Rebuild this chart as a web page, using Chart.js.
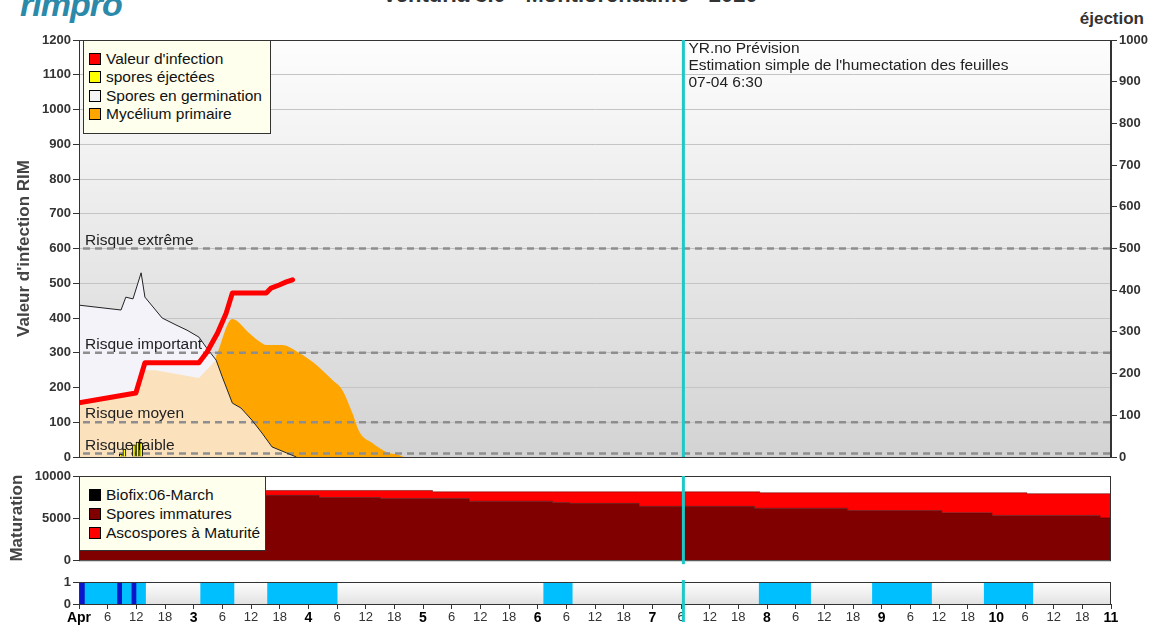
<!DOCTYPE html>
<html>
<head>
<meta charset="utf-8">
<script src="https://cdn.jsdelivr.net/npm/chart.js@4.4.0/dist/chart.umd.min.js"></script>
<style>
body { margin: 0; background: #fff; width: 1159px; height: 626px; overflow: hidden; position: relative; font-family: "Liberation Sans", Arial, sans-serif; }
canvas { position: absolute; left: 0; }
.logo { position: absolute; left: 20px; top: -13px; font-size: 34px; line-height: 1; font-weight: bold; font-style: italic; color: #2b89a9; letter-spacing: -1px; }
.title { position: absolute; left: 0; width: 1140px; text-align: center; top: -16px; font-size: 22px; line-height: 1; font-weight: bold; color: #333; }
.eject { position: absolute; right: 15px; top: 10px; font-size: 17px; line-height: 1; font-weight: bold; color: #333; }
.lg { position: absolute; background: #ffffee; border: 1px solid #333; box-sizing: border-box; font-size: 15.5px; color: #111; z-index: 5; }
.lg div { position: absolute; white-space: nowrap; line-height: 17px; }
.lg i { display: inline-block; width: 10px; height: 10px; border: 1px solid #000; vertical-align: -1px; margin-right: 5px; }
</style>
</head>
<body>
<div class="title">Venturia 3.0 - Montlorchaume - 2020</div>
<div class="logo">rimpro</div>
<div class="eject">éjection</div>

<canvas id="main" width="1159" height="470" style="top:0"></canvas>
<canvas id="mat" width="1159" height="105" style="top:465px"></canvas>
<canvas id="wet" width="1159" height="54" style="top:572px"></canvas>

<div class="lg" style="left:83px;top:40px;width:188px;height:94px">
  <div style="left:5px;top:9px"><i style="background:#ff0000"></i>Valeur d'infection</div>
  <div style="left:5px;top:27px"><i style="background:#ffff00"></i>spores éjectées</div>
  <div style="left:5px;top:46px"><i style="background:#f4f4f4"></i>Spores en germination</div>
  <div style="left:5px;top:64px"><i style="background:#ffa500"></i>Mycélium primaire</div>
</div>
<div class="lg" style="left:79px;top:476px;width:187px;height:75px">
  <div style="left:9px;top:9px"><i style="background:#000"></i>Biofix:06-March</div>
  <div style="left:9px;top:28px"><i style="background:#800000"></i>Spores immatures</div>
  <div style="left:9px;top:47px"><i style="background:#ff0000"></i>Ascospores à Maturité</div>
</div>

<script>
// hours counted from 2 April 00:00
var dayLabels = ['Apr', '3', '4', '5', '6', '7', '8', '9', '10', '11'];
var forecastHour = 126.5; // 07-04 6:30
var forecastTexts = ['YR.no Prévision', "Estimation simple de l'humectation des feuilles", '07-04 6:30'];

var riskValues = [600, 300, 100, 10];
var riskLabels = ['Risque extrême', 'Risque important', 'Risque moyen', 'Risque faible'];

// Valeur d'infection RIM
var infectionHours = [0, 11.9, 13.8, 25.1, 26.8, 29.0, 30.8, 32.1, 39.2, 40.2, 41.9, 43.4, 44.7];
var infectionValues = [156, 184, 271, 271, 302, 357, 414, 472, 472, 486, 495, 504, 510];

// spores ejectees (right axis)
var ejectHours = [8.75, 9.5, 11.5, 12.25, 13];
var ejectValues = [7, 19, 29, 36, 34];

// spores en germination
var germHours = [0, 8.8, 9.8, 11.3, 13.0, 13.8, 17.4, 20.3, 22.6, 25.1, 26.6, 28.7, 30.0, 32.1, 33.9, 36.2, 38.3, 40.4, 43.4, 45.5];
var germValues = [437, 423, 460, 455, 530, 460, 400, 380, 365, 345, 316, 279, 230, 155, 141, 106, 69, 29, 12, 0];

// lighter part under the germination curve
var peachHours = [0, 11.9, 13.8, 16, 25.1, 27.5, 28.7, 30.0, 32.1, 33.9, 36.2, 38.3, 40.4, 43.4, 45.5];
var peachValues = [152, 178, 250, 250, 227, 262, 279, 230, 155, 141, 106, 69, 29, 12, 0];

// mycelium primaire
var myceHours = [28.7, 32.1, 35.6, 38.0, 39.2, 42.5, 46.1, 49.7, 53.0, 55.1, 57.2, 58.7, 61.4, 64.4, 67.0, 68.0];
var myceValues = [290, 397, 357, 330, 322, 322, 299, 265, 222, 193, 127, 72, 40, 14, 6, 0];

// maturation
var matHours = [0, 50.3, 63.1, 74, 81.7, 99.1, 102.7, 117.3, 141.4, 142.5, 160.9, 180.6, 191.1, 198.4, 213.7, 216];
var immatures = [7700, 7440, 7320, 7320, 7010, 6860, 6750, 6400, 6170, 6170, 5900, 5630, 5320, 5320, 5020, 4950];
var matures = [580, 840, 960, 800, 1110, 1260, 1370, 1720, 1950, 1840, 2110, 2380, 2690, 2580, 2880, 2950];

// humectation des feuilles (1 = humide)
var wetHours = [0, 14, 25.4, 32.5, 39.4, 54.1, 97.2, 103.3, 142.3, 153.2, 166, 178.5, 189.4, 199.7, 216];
var wetValues = [1, 0, 1, 0, 1, 0, 1, 0, 1, 0, 1, 0, 1, 0, 0];
var rainHours = [0, 1.2, 8, 9, 11, 12, 216];
var rainValues = [1, 0, 1, 0, 1, 0, 0];

Chart.defaults.font.family = '"Liberation Sans", Arial, sans-serif';
Chart.defaults.color = '#333';

function toXY(xs, ys) {
    return xs.map((x, i) => ({ x: x, y: ys[i] }));
}

// background gradient + frame of the plot area
var panelPlugin = {
    id: 'panel',
    beforeDraw(chart, args, opts) {
        var a = chart.chartArea, ctx = chart.ctx;
        var g = ctx.createLinearGradient(0, a.top, 0, a.bottom);
        g.addColorStop(0, opts.top);
        g.addColorStop(1, opts.bottom);
        ctx.save();
        ctx.fillStyle = g;
        ctx.fillRect(a.left, a.top, a.right - a.left, a.bottom - a.top);
        ctx.restore();
    },
    afterDraw(chart) {
        var a = chart.chartArea, ctx = chart.ctx;
        ctx.save();
        ctx.strokeStyle = '#333';
        ctx.lineWidth = 1;
        ctx.strokeRect(a.left + 0.5, a.top + 0.5, a.right - a.left - 1, a.bottom - a.top);
        ctx.restore();
    }
};

// cyan line at start of forecast
var forecastPlugin = {
    id: 'forecast',
    afterDraw(chart, args, opts) {
        var a = chart.chartArea, ctx = chart.ctx;
        var x = chart.scales.x.getPixelForValue(forecastHour);
        ctx.save();
        ctx.strokeStyle = '#1ec8c8';
        ctx.lineWidth = 3;
        ctx.beginPath();
        ctx.moveTo(x, a.top - opts.above);
        ctx.lineTo(x, a.bottom + opts.below);
        ctx.stroke();
        if (opts.texts) {
            ctx.fillStyle = '#222';
            ctx.font = '15.5px "Liberation Sans", Arial, sans-serif';
            ctx.textBaseline = 'middle';
            opts.texts.forEach((t, i) => ctx.fillText(t, x + 5, a.top + 9 + i * 17));
        }
        ctx.restore();
    }
};

// risk levels
var riskPlugin = {
    id: 'risk',
    beforeDatasetsDraw(chart) {
        var a = chart.chartArea, ctx = chart.ctx, y = chart.scales.y;
        ctx.save();
        riskValues.forEach((v, i) => {
            var py = y.getPixelForValue(v);
            ctx.strokeStyle = '#8e8e8e';
            ctx.lineWidth = 2.5;
            ctx.setLineDash([7, 5]);
            ctx.beginPath();
            ctx.moveTo(a.left + 4, py);
            ctx.lineTo(a.right, py);
            ctx.stroke();
            ctx.fillStyle = '#222';
            ctx.font = '15.5px "Liberation Sans", Arial, sans-serif';
            ctx.textBaseline = 'alphabetic';
            ctx.fillText(riskLabels[i], a.left + 6, py - 4);
        });
        ctx.restore();
    }
};

var tickFont = { size: 13, weight: 'bold' };
var plainNumber = v => String(v);

new Chart(document.getElementById('main'), {
    type: 'line',
    data: {
        datasets: [
            { label: "Valeur d'infection", data: toXY(infectionHours, infectionValues), borderColor: '#ff0000', borderWidth: 5, pointRadius: 0, fill: false, tension: 0, borderJoinStyle: 'round', borderCapStyle: 'round', order: 0 },
            { type: 'bar', label: 'spores éjectées', data: toXY(ejectHours, ejectValues), yAxisID: 'y2', backgroundColor: '#ffff00', borderColor: '#000', borderWidth: 1, barThickness: 3, order: 1 },
            { label: 'Spores en germination', data: toXY(germHours, germValues), borderColor: '#222', borderWidth: 1, backgroundColor: '#f4f3fa', fill: 'origin', pointRadius: 0, order: 3 },
            { label: 'Mycélium primaire', data: toXY(myceHours, myceValues), borderColor: 'rgba(0,0,0,0)', borderWidth: 0, backgroundColor: '#ffa500', fill: 'origin', pointRadius: 0, cubicInterpolationMode: 'monotone', order: 4 },
            { label: 'germination (part)', data: toXY(peachHours, peachValues), borderColor: 'rgba(0,0,0,0)', borderWidth: 0, backgroundColor: '#fbe2bd', fill: 'origin', pointRadius: 0, order: 2 }
        ]
    },
    options: {
        responsive: false,
        animation: false,
        events: [],
        layout: { padding: { top: 40, bottom: 13, left: 0, right: 0 } },
        scales: {
            x: { type: 'linear', min: 0, max: 216, offset: false, display: false },
            y: {
                position: 'left', min: 0, max: 1200,
                ticks: { stepSize: 100, maxTicksLimit: 50, font: tickFont, color: '#333', padding: 2, callback: plainNumber },
                grid: { color: '#c4c4c4', tickColor: '#333', tickLength: 6 },
                border: { color: '#333' },
                title: { display: true, text: "Valeur d'infection RIM", font: { size: 17, weight: 'bold' }, color: '#444', padding: { top: 14, bottom: 0 } },
                afterFit: s => { s.width = 79; }
            },
            y2: {
                position: 'right', min: 0, max: 1000,
                ticks: { stepSize: 100, maxTicksLimit: 50, font: tickFont, color: '#333', padding: 2, callback: plainNumber },
                grid: { drawOnChartArea: false, tickColor: '#333', tickLength: 6 },
                border: { color: '#333' },
                afterFit: s => { s.width = 48; }
            }
        },
        plugins: {
            legend: { display: false },
            tooltip: { enabled: false },
            filler: { drawTime: 'beforeDatasetsDraw' },
            panel: { top: '#fdfdfd', bottom: '#d3d3d3' },
            forecast: { above: 0, below: 0, texts: forecastTexts }
        }
    },
    plugins: [panelPlugin, riskPlugin, forecastPlugin]
});

new Chart(document.getElementById('mat'), {
    type: 'line',
    data: {
        datasets: [
            { label: 'Spores immatures', data: toXY(matHours, immatures), stepped: true, borderColor: '#400000', borderWidth: 0.5, backgroundColor: '#800000', fill: 'origin', pointRadius: 0 },
            { label: 'Ascospores à Maturité', data: toXY(matHours, matures), stepped: true, borderColor: '#600000', borderWidth: 0.5, backgroundColor: '#ff0000', fill: '-1', pointRadius: 0 }
        ]
    },
    options: {
        responsive: false,
        animation: false,
        events: [],
        layout: { padding: { top: 11, bottom: 7, left: 0, right: 48 } },
        scales: {
            x: { type: 'linear', min: 0, max: 216, offset: false, display: false },
            y: {
                min: 0, max: 10000, stacked: true,
                ticks: { stepSize: 5000, font: tickFont, color: '#333', padding: 2, callback: plainNumber },
                grid: { drawOnChartArea: false, tickColor: '#333', tickLength: 6 },
                border: { color: '#333' },
                title: { display: true, text: 'Maturation', font: { size: 17, weight: 'bold' }, color: '#444', padding: { top: 7, bottom: 0 } },
                afterFit: s => { s.width = 79; }
            }
        },
        plugins: {
            legend: { display: false },
            tooltip: { enabled: false },
            panel: { top: '#ffffff', bottom: '#ffffff' },
            forecast: { above: 0, below: 4 }
        }
    },
    plugins: [panelPlugin, forecastPlugin]
});

new Chart(document.getElementById('wet'), {
    type: 'line',
    data: {
        datasets: [
            { label: 'pluie', data: toXY(rainHours, rainValues), stepped: true, borderColor: 'rgba(0,0,0,0)', borderWidth: 0, backgroundColor: '#0a14c8', fill: 'origin', pointRadius: 0, order: 0 },
            { label: 'humectation', data: toXY(wetHours, wetValues), stepped: true, borderColor: 'rgba(0,0,0,0)', borderWidth: 0, backgroundColor: '#00bfff', fill: 'origin', pointRadius: 0, order: 1 }
        ]
    },
    options: {
        responsive: false,
        animation: false,
        events: [],
        layout: { padding: { top: 10, bottom: 0, left: 0, right: 48 } },
        scales: {
            x: {
                type: 'linear', min: 0, max: 216, offset: false,
                ticks: {
                    stepSize: 6, maxTicksLimit: 50, autoSkip: false, maxRotation: 0, padding: 1,
                    callback: v => v % 24 === 0 ? dayLabels[v / 24] : String(v % 24),
                    font: c => (c.tick && c.tick.value % 24 === 0) ? { size: 14, weight: 'bold' } : { size: 13, weight: 'normal' },
                    color: c => (c.tick && c.tick.value % 24 === 0) ? '#000' : '#333'
                },
                grid: { drawOnChartArea: false, tickColor: '#333', tickLength: 5 },
                border: { color: '#333' },
                afterFit: s => { s.height = 22; }
            },
            y: {
                min: 0, max: 1,
                ticks: { stepSize: 1, font: tickFont, color: '#333', padding: 2, callback: plainNumber },
                grid: { drawOnChartArea: false, tickColor: '#333', tickLength: 6 },
                border: { color: '#333' },
                afterFit: s => { s.width = 79; }
            }
        },
        plugins: {
            legend: { display: false },
            tooltip: { enabled: false },
            panel: { top: '#ffffff', bottom: '#e2e2e2' },
            forecast: { above: 2, below: 18 }
        }
    },
    plugins: [panelPlugin, forecastPlugin]
});
</script>
</body>
</html>
